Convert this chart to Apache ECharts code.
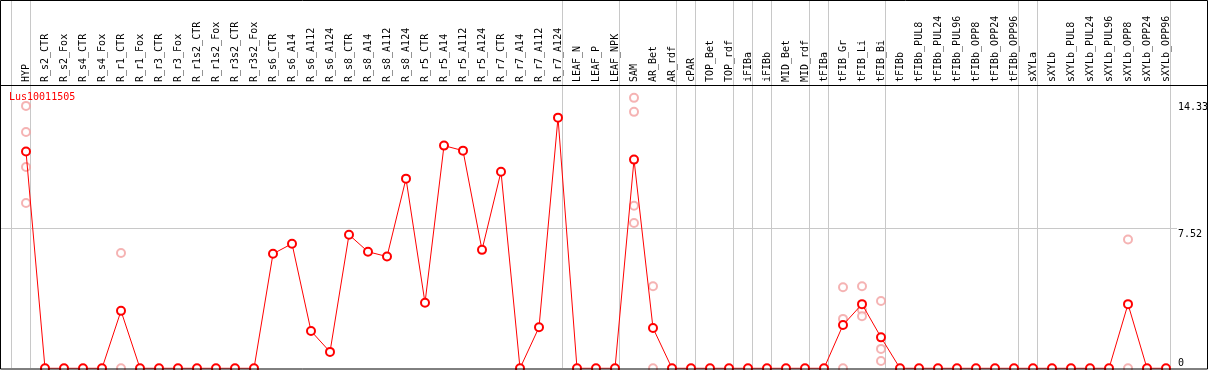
<!DOCTYPE html>
<html>
<head>
<meta charset="utf-8">
<script src="https://cdn.jsdelivr.net/npm/echarts@6/dist/echarts.min.js"></script>
<style>
  html, body { margin: 0; padding: 0; background: #fff; }
  #chart { width: 1209px; height: 370px; }
</style>
</head>
<body>
<div id="chart"></div>
<script>
// ---- data ----
const chartTitle = 'Lus10011505';

const categories = [
  'HYP',
  'R_s2_CTR', 'R_s2_Fox', 'R_s4_CTR', 'R_s4_Fox',
  'R_r1_CTR', 'R_r1_Fox', 'R_r3_CTR', 'R_r3_Fox',
  'R_r1s2_CTR', 'R_r1s2_Fox', 'R_r3s2_CTR', 'R_r3s2_Fox',
  'R_s6_CTR', 'R_s6_A14', 'R_s6_A112', 'R_s6_A124',
  'R_s8_CTR', 'R_s8_A14', 'R_s8_A112', 'R_s8_A124',
  'R_r5_CTR', 'R_r5_A14', 'R_r5_A112', 'R_r5_A124',
  'R_r7_CTR', 'R_r7_A14', 'R_r7_A112', 'R_r7_A124',
  'LEAF_N', 'LEAF_P', 'LEAF_NPK',
  'SAM', 'AR_Bet', 'AR_rdf', 'cPAR', 'TOP_Bet', 'TOP_rdf',
  'iFIBa', 'iFIBb', 'MID_Bet', 'MID_rdf',
  'tFIBa', 'tFIB_Gr', 'tFIB_Li', 'tFIB_Bi',
  'tFIBb', 'tFIBb_PUL8', 'tFIBb_PUL24', 'tFIBb_PUL96', 'tFIBb_OPP8', 'tFIBb_OPP24', 'tFIBb_OPP96',
  'sXYLa', 'sXYLb', 'sXYLb_PUL8', 'sXYLb_PUL24', 'sXYLb_PUL96', 'sXYLb_OPP8', 'sXYLb_OPP24', 'sXYLb_OPP96'
];

const meanValues = [
  11.62,
  0, 0, 0, 0,
  3.08, 0, 0, 0,
  0, 0, 0, 0,
  6.14, 6.68, 2.00, 0.88,
  7.16, 6.25, 5.99, 10.17,
  3.51, 11.94, 11.67, 6.35,
  10.54, 0, 2.20, 13.44,
  0, 0, 0,
  11.19, 2.16, 0, 0, 0, 0,
  0, 0, 0, 0,
  0, 2.32, 3.44, 1.66,
  0, 0, 0, 0, 0, 0, 0,
  0, 0, 0, 0, 0, 3.44, 0, 0
];

const replicateCategories = [
  'HYP', 'HYP', 'HYP', 'HYP',
  'R_r1_CTR', 'R_r1_CTR',
  'SAM', 'SAM', 'SAM', 'SAM',
  'AR_Bet', 'AR_Bet',
  'tFIB_Gr', 'tFIB_Gr', 'tFIB_Gr',
  'tFIB_Li', 'tFIB_Li', 'tFIB_Li',
  'tFIB_Bi', 'tFIB_Bi', 'tFIB_Bi',
  'sXYLb_OPP8', 'sXYLb_OPP8'
];
const replicateValues = [
  14.07, 12.67, 10.79, 8.86,
  6.18, 0,
  14.50, 13.75, 8.72, 7.79,
  4.40, 0,
  4.35, 2.65, 0,
  4.40, 3.13, 2.79,
  3.61, 1.04, 0.39,
  6.91, 0
];

// group separators: drawn after these category indices (-1 = before the first)
const groupBreaksAfter = [-1, 0, 28, 31, 34, 35, 37, 38, 39, 41, 42, 45, 52, 53, 60];

const yTickValues = [14.33, 7.52, 0];
const yTickLabels = ['14.33', '7.52', '0'];
const yGridLineValues = [7.52];

// ---- chart ----
const FONT = '"DejaVu Sans Mono", "Liberation Mono", monospace';
const W = 1209, H = 370;
const gridLeft = 1, gridRight = 2, gridTop = 85, gridBottom = 1.7;
const xStep = 19, firstX = 26; // pixel position of first category
const xMin = (gridLeft - firstX) / xStep;
const xMax = (W - gridRight - firstX) / xStep;

const chart = echarts.init(document.getElementById('chart'), null, { renderer: 'canvas' });

const meanData = meanValues.map((v, i) => [i, v]);
const repData = replicateValues.map((v, k) => [categories.indexOf(replicateCategories[k]), v]);

chart.setOption({
  animation: false,
  backgroundColor: '#fff',
  title: {
    text: chartTitle,
    left: 9,
    top: 92,
    padding: 0,
    textStyle: { color: '#ff0000', fontSize: 10, fontWeight: 'normal', fontFamily: FONT }
  },
  grid: { left: gridLeft, right: gridRight, top: gridTop, bottom: gridBottom, show: false },
  xAxis: {
    type: 'value',
    position: 'top',
    min: xMin,
    max: xMax,
    axisLine: { show: false },
    axisTick: { show: false },
    splitLine: { show: false },
    axisLabel: {
      customValues: categories.map((c, i) => i),
      rotate: 90,
      margin: 3,
      fontSize: 10,
      fontFamily: FONT,
      color: '#000',
      showMinLabel: true,
      showMaxLabel: true,
      hideOverlap: false,
      formatter: v => categories[Math.round(v)] || ''
    }
  },
  yAxis: {
    type: 'value',
    min: 0,
    max: 15.19,
    show: false,
    splitLine: { show: false }
  },
  series: [
    {
      type: 'scatter',
      data: repData,
      symbol: 'emptyCircle',
      symbolSize: 8,
      itemStyle: { color: '#f2a0a0', borderWidth: 1.2 },
      z: 3,
      silent: true
    },
    {
      type: 'line',
      data: meanData,
      symbol: 'emptyCircle',
      symbolSize: 8,
      showAllSymbol: true,
      lineStyle: { color: '#ff0000', width: 1 },
      itemStyle: { color: '#ff0000', borderWidth: 1.2 },
      z: 4,
      silent: true
    }
  ]
});

// decorations placed via the chart's own scales
const graphics = [];
groupBreaksAfter.forEach(k => {
  const px = Math.round(chart.convertToPixel({ xAxisIndex: 0 }, k + 4 / xStep)) + 0.5;
  graphics.push({
    type: 'line', z: 1, silent: true,
    shape: { x1: px, y1: 1, x2: px, y2: 368 },
    style: { stroke: '#c8c8c8', lineWidth: 1 }
  });
});
const rightLineEnd = Math.round(chart.convertToPixel({ xAxisIndex: 0 }, 60 + 4 / xStep)) + 7;
yGridLineValues.forEach(v => {
  const py = Math.round(chart.convertToPixel({ yAxisIndex: 0 }, v)) + 0.5;
  graphics.push({
    type: 'line', z: 1, silent: true,
    shape: { x1: 1, y1: py, x2: rightLineEnd, y2: py },
    style: { stroke: '#c8c8c8', lineWidth: 1 }
  });
});
yTickValues.forEach((v, k) => {
  const py = chart.convertToPixel({ yAxisIndex: 0 }, v);
  const bottomClamp = py + 13 > H - 2;
  graphics.push({
    type: 'text', z: 10, silent: true,
    x: 1178,
    y: bottomClamp ? py : py + 1,
    style: {
      text: yTickLabels[k],
      fill: '#000',
      font: '10px ' + FONT,
      textAlign: 'left',
      textVerticalAlign: bottomClamp ? 'bottom' : 'top'
    }
  });
});
// frame
graphics.push({
  type: 'rect', z: 20, silent: true,
  shape: { x: 0.5, y: 0.5, width: 1207, height: 368.5 },
  style: { fill: null, stroke: '#000', lineWidth: 1 }
});
graphics.push({
  type: 'line', z: 20, silent: true,
  shape: { x1: 0, y1: gridTop + 0.5, x2: 1208, y2: gridTop + 0.5 },
  style: { stroke: '#000', lineWidth: 1 }
});
chart.setOption({ graphic: graphics });
</script>
</body>
</html>
